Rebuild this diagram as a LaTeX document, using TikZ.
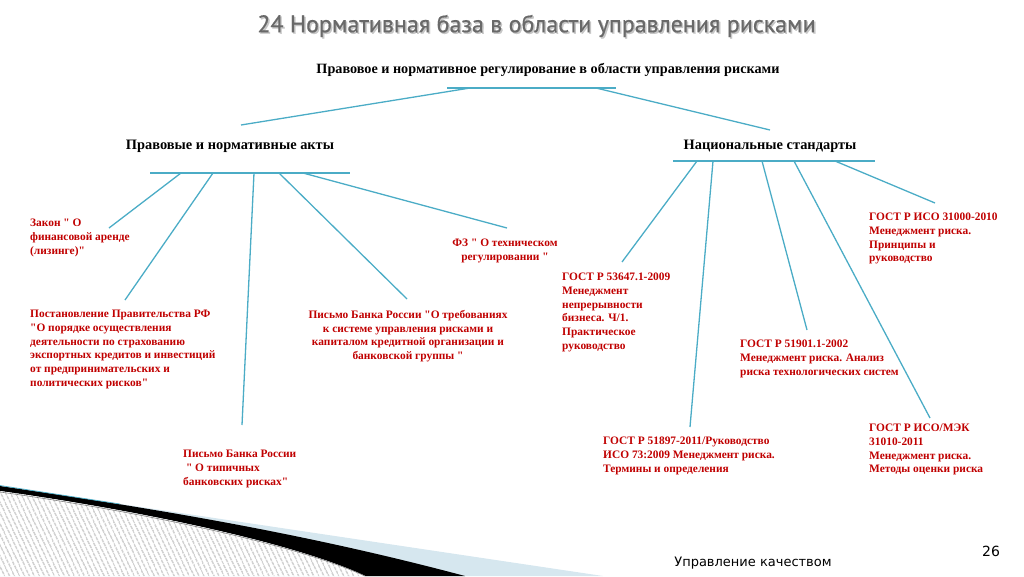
\documentclass[tikz,border=0pt]{standalone}
\usepackage{fontspec}
\setmainfont{Liberation Serif}[Ligatures=TeXOff]
\newfontfamily\titlefont{PT Sans}[FakeBold=0.6]
\newfontfamily\footfont{DejaVu Sans}
\usetikzlibrary{patterns.meta}

\definecolor{linkblue}{RGB}{75,172,198}
\definecolor{docred}{RGB}{192,0,0}
\definecolor{titlegray}{RGB}{105,105,105}
\definecolor{paleblue}{RGB}{214,231,239}

\tikzset{
  link/.style={draw=linkblue, line width=1.3pt},
  doc/.style={text=docred, font=\bfseries\fontsize{11.4}{13.7}\selectfont,
    inner sep=0pt, align=left, anchor=north west, yshift=-2pt},
  head/.style={font=\bfseries\fontsize{14.2}{16}\selectfont, inner sep=0pt}
}

\begin{document}
\begin{tikzpicture}[x=1pt,y=-1pt]
      \useasboundingbox (0,0) rectangle (1024,576);
      % corner decoration
      \fill[paleblue] (0,486) -- (603,576) -- (0,576) -- cycle;
      \fill[black] (0,486) .. controls (150,508) and (300,532) .. (465,576)
        -- (365,576) .. controls (300,545) and (150,512) .. (0,491) -- cycle;
      \fill[white] (0,491) .. controls (150,512) and (300,545) .. (365,576) -- (0,576) -- cycle;
      \fill[pattern={Lines[angle=-65,distance=4pt,line width=0.6pt]}, pattern color=gray]
        (0,491) .. controls (150,512) and (300,545) .. (365,576) -- (0,576) -- cycle;
      \draw[gray, line width=0.6pt] (0,492) .. controls (150,513) and (300,546) .. (365,576);
      \draw[linkblue, line width=0.7pt] (0,485.5) .. controls (60,494) .. (120,504);

      % title and footer
      \node[text=gray!45, font=\titlefont\fontsize{24}{28}\selectfont] (title-sh) at (538,27.5) {24 Нормативная база в области управления рисками};
      \node[text=titlegray, font=\titlefont\fontsize{24}{28}\selectfont] (title) at (536.5,26) {24 Нормативная база в области управления рисками};
      \node[font=\footfont\fontsize{13}{15}\selectfont] (foot) at (753,563) {Управление качеством};
      \node[font=\footfont\fontsize{14}{16}\selectfont] (page) at (991,551) {26};

      % headings and bars
      \node[head] (reg) at (548,70) {Правовое и нормативное регулирование в области управления рисками};
      \node[head, font=\bfseries\fontsize{14.4}{16}\selectfont] (acts) at (230,146) {Правовые и нормативные акты};
      \node[head, font=\bfseries\fontsize{14.4}{16}\selectfont] (std) at (770,146) {Национальные стандарты};
      \coordinate (reg-w) at (447,88);
      \coordinate (reg-e) at (616,88);
      \coordinate (acts-w) at (150,173);
      \coordinate (acts-e) at (350,173);
      \coordinate (std-w) at (673,161);
      \coordinate (std-e) at (875,161);
      \draw[link] (reg-w) -- (reg-e);
      \draw[link] (acts-w) -- (acts-e);
      \draw[link] (std-w) -- (std-e);

      % documents
      \node[doc] (zakon) at (30,217) {Закон " О\\финансовой аренде\\(лизинге)"};
      \node[doc, anchor=north, align=center] (fz) at (505,237) {ФЗ " О техническом\\регулировании "};
      \node[doc] (post) at (30,308) {Постановление Правительства РФ\\"О порядке осуществления\\деятельности по страхованию\\экспортных кредитов и инвестиций\\от предпринимательских и\\политических рисков"};
      \node[doc, anchor=north, align=center] (cbr1) at (408,308) {Письмо Банка России "О требованиях\\к системе управления рисками и\\капиталом кредитной организации и\\банковской группы "};
      \node[doc] (cbr2) at (183,448) {Письмо Банка России\\\ " О типичных\\банковских рисках"};
      \node[doc] (gost1) at (562,271) {ГОСТ Р 53647.1-2009\\Менеджмент\\непрерывности\\бизнеса. Ч/1.\\Практическое\\руководство};
      \node[doc] (gost2) at (869,211) {ГОСТ Р ИСО 31000-2010\\Менеджмент риска.\\Принципы и\\руководство};
      \node[doc] (gost3) at (740,338) {ГОСТ Р 51901.1-2002\\Менеджмент риска. Анализ\\риска технологических систем};
      \node[doc] (gost4) at (603,435) {ГОСТ Р 51897-2011/Руководство\\ИСО 73:2009 Менеджмент риска.\\Термины и определения};
      \node[doc] (gost5) at (869,422) {ГОСТ Р ИСО/МЭК\\31010-2011\\Менеджмент риска.\\Методы оценки риска};

      % connector ends
      \coordinate (acts-in) at (241,125);
      \coordinate (std-in) at (770,130);
      \coordinate (zakon-in) at (109,228);
      \coordinate (post-in) at (125,300);
      \coordinate (cbr2-in) at (242,425);
      \coordinate (cbr1-in) at (407,299);
      \coordinate (fz-in) at (507,228);
      \coordinate (gost1-in) at (622,262);
      \coordinate (gost4-in) at (690,427);
      \coordinate (gost3-in) at (807,330);
      \coordinate (gost5-in) at (930,418);
      \coordinate (gost2-in) at (935,203);

      % connectors
      \draw[link] (470,88) -- (acts-in);
      \draw[link] (596,88) -- (std-in);
      \draw[link] (181,173) -- (zakon-in);
      \draw[link] (213,173) -- (post-in);
      \draw[link] (254,173) -- (cbr2-in);
      \draw[link] (279,173) -- (cbr1-in);
      \draw[link] (303,173) -- (fz-in);
      \draw[link] (697,161) -- (gost1-in);
      \draw[link] (713,161) -- (gost4-in);
      \draw[link] (762,161) -- (gost3-in);
      \draw[link] (794,161) -- (gost5-in);
      \draw[link] (835,161) -- (gost2-in);
\end{tikzpicture}
\end{document}
